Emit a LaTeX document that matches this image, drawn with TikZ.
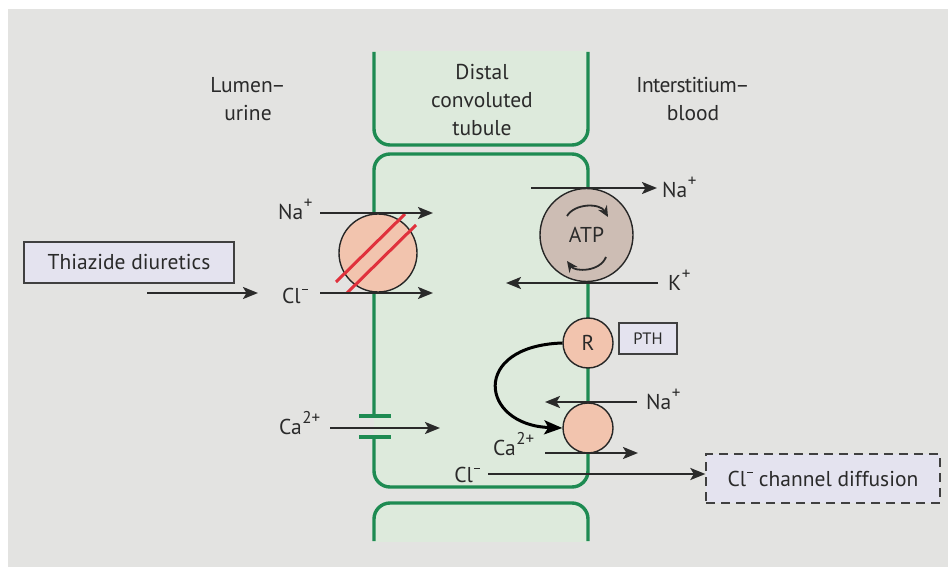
\documentclass[tikz,border=0pt]{standalone}
\usepackage{fontspec}
\setmainfont{PT Sans}
\usetikzlibrary{arrows.meta}
\definecolor{bg}{HTML}{E3E3E1}
\definecolor{cellg}{HTML}{1E8B52}
\definecolor{cellf}{HTML}{DDEADC}
\definecolor{txt}{HTML}{2A2A2A}
\definecolor{peach}{HTML}{F2C4AE}
\definecolor{atpf}{HTML}{CDBDB4}
\definecolor{lav}{HTML}{E4E3EF}
\definecolor{redx}{HTML}{E0313C}
\newcommand{\ionsup}[1]{\kern0.5pt\raisebox{0.5em}{\fontsize{17}{17}\selectfont #1}}
\newcommand{\ionminus}{\kern1pt\raisebox{0.6em}{\rule{6pt}{1.5pt}}}
\begin{document}
\begin{tikzpicture}[x=1pt,y=-1pt, font=\fontsize{21.5}{28}\selectfont, text=txt,
 wall/.style={draw=cellg, line width=3.4pt, rounded corners=16pt},
 ion/.style={draw=txt, line width=2.2pt, -{Stealth[length=15pt,width=12pt,inset=3.5pt]}},
 tr/.style={circle, draw=black!85, line width=1.4pt, fill=peach, inner sep=0pt},
 lbl/.style={inner sep=0pt, align=center},
 box/.style={draw=black!75, line width=1.3pt, fill=lav, inner sep=0pt}]
\useasboundingbox (0,0) rectangle (948,567);
\fill[white] (0,0) rectangle (948,567);
\fill[bg] (8,9) rectangle (948,567);
% cells
\begin{scope}
\clip (374,52) rectangle (588,145);
\fill[cellf, rounded corners=16pt] (374,20) rectangle (588,145);
\end{scope}
\draw[wall] (374,52) -- (374,145) -- (588,145) -- (588,52);
\fill[cellf, rounded corners=16pt] (374,154) rectangle (588,487);
\draw[wall] (374,416) -- (374,154) -- (588,154) -- (588,487) -- (374,487) -- (374,437);
\draw[cellg, line width=3.4pt] (359,416) -- (391,416) (359,437) -- (391,437);
\begin{scope}
\clip (374,503) rectangle (588,541);
\fill[cellf, rounded corners=16pt] (374,503) rectangle (588,580);
\end{scope}
\draw[wall] (374,541) -- (374,503) -- (588,503) -- (588,541);
% headings
\node[lbl] (lumen) at (248,99) {Lumen\kern-1.5pt–\\urine};
\node[lbl] (dct) at (482,100) {Distal\\convoluted\\tubule};
\node[lbl] (inter) at (693,99) {\addfontfeatures{LetterSpace=-3}Interstitium\kern-1.5pt–\\blood};
% NaCl cotransporter
\node[tr, minimum size=78pt] (nacl) at (378,253) {};
\draw[redx, line width=3pt] (336,282) -- (405,214) (347,293) -- (416,225);
\node[lbl, anchor=base west] (naL) at (278,219) {Na\ionsup{+}};
\node[lbl, anchor=base west] (clL) at (282,303) {Cl\ionminus};
\coordinate (naLs) at (320,213); \coordinate (naLe) at (433,213);
\coordinate (clLs) at (320,293); \coordinate (clLe) at (433,293);
\draw[ion] (naLs) -- (naLe);
\draw[ion] (clLs) -- (clLe);
% thiazide
\node[box, minimum width=210pt, minimum height=41pt] (thz) at (129,262.5) {Thiazide diuretics};
\coordinate (thzs) at (147,293); \coordinate (thze) at (258,293);
\draw[ion] (thzs) -- (thze);
% Na/K ATPase
\node[circle, draw=black!85, line width=1.4pt, fill=atpf, minimum size=93pt, inner sep=0pt] (atp) at (586.5,235) {ATP};
\draw[line width=1.8pt, draw=txt, -{Stealth[length=11pt,width=10pt]}] (567,216) .. controls (575,203) and (600,203) .. (608,217);
\draw[line width=1.8pt, draw=txt, -{Stealth[length=11pt,width=10pt]}] (606,257) .. controls (600,272) and (575,272) .. (567,261);
\coordinate (naRs) at (531,188); \coordinate (naRe) at (657,188);
\draw[ion] (naRs) -- (naRe);
\node[lbl, anchor=base west] (naR) at (662,197) {Na\ionsup{+}};
\coordinate (kRs) at (658,283); \coordinate (kRe) at (506,283);
\draw[ion] (kRs) -- (kRe);
\node[lbl, anchor=base west] (kR) at (668,290) {K\ionsup{+}};
% PTH receptor
\node[tr, minimum size=50pt] (rec) at (588,343) {R};
\node[box, minimum width=58pt, minimum height=31pt, font=\fontsize{16.5}{18}\selectfont] (pth) at (648,338.5) {PTH};
% Na/Ca exchanger
\node[tr, minimum size=50pt] (catr) at (588,428) {};
\draw[line width=3pt, -{Stealth[length=18pt,width=14pt,inset=4pt]}] (rec.west) .. controls (470,346) and (480,425) .. (catr.west);
\coordinate (na2s) at (637,402); \coordinate (na2e) at (545,402);
\draw[ion] (na2s) -- (na2e);
\node[lbl, anchor=base west] (na2) at (646,409) {Na\ionsup{+}};
\coordinate (ca2s) at (545,453); \coordinate (ca2e) at (638,453);
\draw[ion] (ca2s) -- (ca2e);
\node[lbl, anchor=base west] (ca2) at (493,455) {Ca\ionsup{2+}};
% Ca channel
\node[lbl, anchor=base west] (caL) at (279,434) {Ca\ionsup{2+}};
\coordinate (caLs) at (330,428); \coordinate (caLe) at (440,428);
\draw[ion] (caLs) -- (caLe);
% Cl diffusion
\node[box, dashed, dash pattern=on 9pt off 6pt, minimum width=234pt, minimum height=49pt] (cld) at (823,478.5) {Cl\ionminus\ channel diffusion};
\node[lbl, anchor=base east] (clR) at (480,482) {Cl\ionminus};
\coordinate (clRs) at (488,474);
\draw[ion] (clRs) -- (clRs -| cld.west);
\end{tikzpicture}
\end{document}
